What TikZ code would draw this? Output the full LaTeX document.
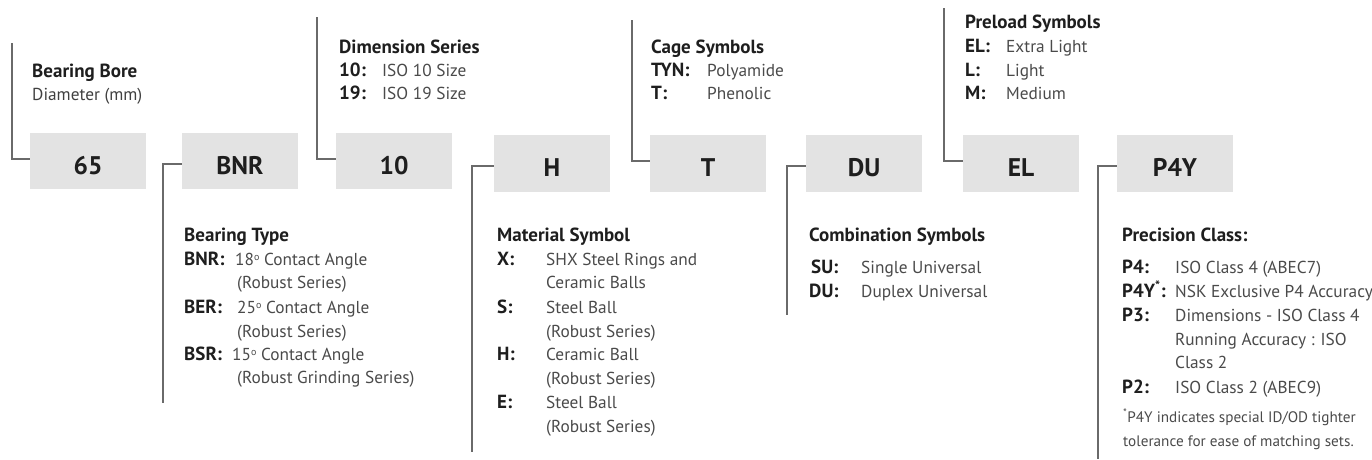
\documentclass[tikz,border=0pt]{standalone}
\usepackage{fontspec}
\setmainfont{PT Sans}
\definecolor{boxgray}{HTML}{E3E3E3}
\definecolor{linegray}{HTML}{6A6A6A}
\definecolor{darktxt}{HTML}{1E1E1E}
\definecolor{valtxt}{HTML}{4A4A4A}
\newcommand{\degsym}{\raisebox{0.55ex}{\fontsize{10}{10}\selectfont o}}
\begin{document}
\begin{tikzpicture}[x=1pt,y=-1pt,
  codebox/.style={rectangle,fill=boxgray,minimum width=116pt,minimum height=56.5pt,inner sep=0pt},
  codelabel/.style={anchor=base,font=\bfseries\fontsize{25.5}{30}\selectfont,text=darktxt,inner sep=0pt},
  head/.style={anchor=base west,font=\bfseries\fontsize{19}{22}\selectfont,text=darktxt,inner sep=0pt},
  key/.style={anchor=base west,font=\bfseries\fontsize{19}{22}\selectfont,text=darktxt,inner sep=0pt},
  val/.style={anchor=base west,font=\fontsize{17.3}{20}\selectfont,text=valtxt,inner sep=0pt},
  note/.style={anchor=base west,font=\fontsize{15.2}{18}\selectfont,text=valtxt,inner sep=0pt},
  leader/.style={draw=linegray,line width=2.2pt}]
\useasboundingbox (0,0) rectangle (1372,459);

% code boxes
\node[codebox] (b65) at (88,161) {};
\node[codebox] (bBNR) at (240,161) {};
\node[codebox] (b10) at (394,161) {};
\node[codebox] (bH) at (552,163.5) {};
\node[codebox] (bT) at (708,163.5) {};
\node[codebox] (bDU) at (864,163.5) {};
\node[codebox] (bEL) at (1021,163.5) {};
\node[codebox] (bP) at (1175,163.5) {};

\node[codelabel] (l65) at (88,174) {65};
\node[codelabel] (lBNR) at (240,174) {BNR};
\node[codelabel] (l10) at (394,174) {10};
\node[codelabel] (lH) at (552,176.5) {H};
\node[codelabel] (lT) at (708,176.5) {T};
\node[codelabel] (lDU) at (864,176.5) {DU};
\node[codelabel] (lEL) at (1021,176.5) {EL};
\node[codelabel] (lP) at (1175,176.5) {P4Y};

% leader end points
\coordinate (e65) at (12,43);
\coordinate (eBNR) at (163,403);
\coordinate (e10) at (317,17);
\coordinate (eH) at (472,452);
\coordinate (eT) at (632,20);
\coordinate (eDU) at (787,315);
\coordinate (eEL) at (944,8);
\coordinate (eP) at (1098,459);

\draw[leader] (e65) |- ([yshift=2pt]b65.west);
\draw[leader] ([yshift=-3pt]bBNR.west) -| (eBNR);
\draw[leader] (e10) |- ([yshift=2pt]b10.west);
\draw[leader] ([yshift=-2.5pt]bH.west) -| (eH);
\draw[leader] (eT) |- ([yshift=2.5pt]bT.west);
\draw[leader] ([yshift=-2.5pt]bDU.west) -| (eDU);
\draw[leader] (eEL) |- ([yshift=2.5pt]bEL.west);
\draw[leader] ([yshift=-2.5pt]bP.west) -| (eP);

% Bearing bore
\node[head] (h65a) at (32,77) {Bearing Bore};
\node[val,text=darktxt!85] (h65b) at (32,100) {Diameter (mm)};

% Dimension series
\node[head] (h10) at (339,53) {Dimension Series};
\node[key] (k10a) at (339,76) {10:};
\node[val] (v10a) at (382,76) {ISO 10 Size};
\node[key] (k10b) at (339,99) {19:};
\node[val] (v10b) at (382,99) {ISO 19 Size};

% Cage symbols
\node[head] (hT) at (651,53) {Cage Symbols};
\node[key] (kTa) at (651,76) {TYN:};
\node[val] (vTa) at (707,76) {Polyamide};
\node[key] (kTb) at (651,99) {T:};
\node[val] (vTb) at (707,99) {Phenolic};

% Preload symbols
\node[head] (hEL) at (965,28) {Preload Symbols};
\node[key] (kELa) at (965,52) {EL:};
\node[val] (vELa) at (1006,52) {Extra Light};
\node[key] (kELb) at (965,76) {L:};
\node[val] (vELb) at (1006,76) {Light};
\node[key] (kELc) at (965,99) {M:};
\node[val] (vELc) at (1006,99) {Medium};

% Bearing type
\node[head] (hB) at (184,241) {Bearing Type};
\node[key] (kBa) at (184,265) {BNR:};
\node[val] (vBa) at (235,265) {18\degsym\ Contact Angle};
\node[val] (vBa2) at (237,288) {(Robust Series)};
\node[key] (kBb) at (184,313) {BER:};
\node[val] (vBb) at (237,313) {25\degsym\ Contact Angle};
\node[val] (vBb2) at (237,337) {(Robust Series)};
\node[key] (kBc) at (184,360) {BSR:};
\node[val] (vBc) at (232,360) {15\degsym\ Contact Angle};
\node[val] (vBc2) at (237,383) {(Robust Grinding Series)};

% Material symbol
\node[head] (hM) at (497,241) {Material Symbol};
\node[key] (kMa) at (497,265) {X:};
\node[val] (vMa) at (546,265) {SHX Steel Rings and};
\node[val] (vMa2) at (546,288) {Ceramic Balls};
\node[key] (kMb) at (497,313) {S:};
\node[val] (vMb) at (546,313) {Steel Ball};
\node[val] (vMb2) at (546,337) {(Robust Series)};
\node[key] (kMc) at (497,360) {H:};
\node[val] (vMc) at (546,360) {Ceramic Ball};
\node[val] (vMc2) at (546,384) {(Robust Series)};
\node[key] (kMd) at (497,408) {E:};
\node[val] (vMd) at (546,408) {Steel Ball};
\node[val] (vMd2) at (546,432) {(Robust Series)};

% Combination symbols
\node[head] (hC) at (809,241) {Combination Symbols};
\node[key] (kCa) at (811,273) {SU:};
\node[val] (vCa) at (861,273) {Single Universal};
\node[key] (kCb) at (809,297) {DU:};
\node[val] (vCb) at (861,297) {Duplex Universal};

% Precision class
\node[head] (hP) at (1122,241) {Precision Class:};
\node[key] (kPa) at (1122,273) {P4:};
\node[val] (vPa) at (1175,273) {ISO Class 4 (ABEC7)};
\node[key] (kPb) at (1122,297) {P4Y\textsuperscript{*}:};
\node[val] (vPb) at (1175,297) {NSK Exclusive P4 Accuracy};
\node[key] (kPc) at (1122,321) {P3:};
\node[val] (vPc) at (1175,321) {Dimensions - ISO Class 4};
\node[val] (vPc2) at (1175,345) {Running Accuracy : ISO};
\node[val] (vPc3) at (1175,368) {Class 2};
\node[key] (kPd) at (1122,393) {P2:};
\node[val] (vPd) at (1175,393) {ISO Class 2 (ABEC9)};
\node[note] (nP1) at (1123,422) {\textsuperscript{*}P4Y indicates special ID/OD tighter};
\node[note] (nP2) at (1123,446) {tolerance for ease of matching sets.};
\end{tikzpicture}
\end{document}
